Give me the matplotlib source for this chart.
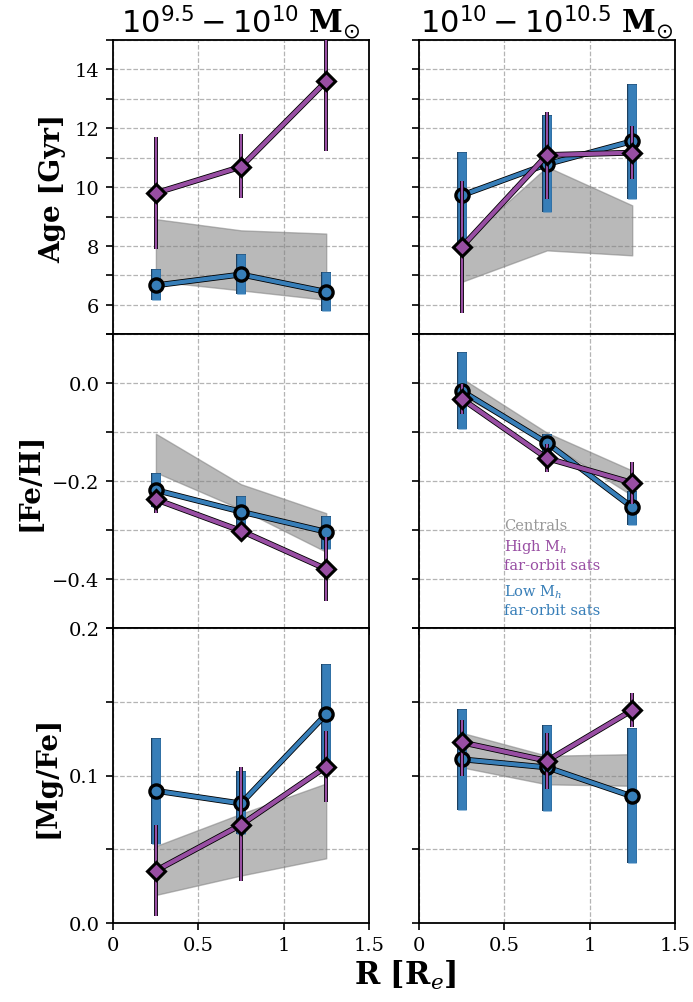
import numpy as np
import matplotlib
matplotlib.use('Agg')
import matplotlib.pyplot as plt
import matplotlib.patheffects as pe
from matplotlib.ticker import MultipleLocator, FuncFormatter

plt.rcParams['font.family'] = 'DejaVu Serif'
plt.rcParams['mathtext.fontset'] = 'custom'
plt.rcParams['mathtext.rm'] = 'DejaVu Sans'
plt.rcParams['mathtext.it'] = 'DejaVu Serif:italic'
plt.rcParams['mathtext.bf'] = 'DejaVu Serif:bold'

# radial bins [R_e]
r = [0.25, 0.75, 1.25]

# ---- Age [Gyr] ----
age_low_lo = [6.66, 7.03, 6.44]      # low Mh sats, low-mass bin
age_low_lo_err = [(0.51, 0.55), (0.68, 0.71), (0.65, 0.68)]
age_high_lo = [9.80, 10.69, 13.60]
age_high_lo_err = [(1.90, 1.90), (1.05, 1.10), (2.38, 2.38)]
age_cen_lo = [(6.80, 8.91), (6.49, 8.53), (6.17, 8.42)]

age_low_hi = [9.72, 10.78, 11.56]    # high-mass bin
age_low_hi_err = [(1.75, 1.48), (1.62, 1.67), (1.95, 1.93)]
age_high_hi = [7.97, 11.09, 11.17]
age_high_hi_err = [(2.24, 2.23), (1.48, 1.45), (0.88, 0.90)]
age_cen_hi = [(6.78, 8.10), (7.85, 10.69), (7.68, 9.38)]

# ---- [Fe/H] ----
feh_low_lo = [-0.218, -0.262, -0.303]
feh_low_lo_err = [(0.035, 0.035), (0.033, 0.033), (0.035, 0.032)]
feh_high_lo = [-0.237, -0.301, -0.379]
feh_high_lo_err = [(0.028, 0.012), (0.015, 0.015), (0.065, 0.065)]
feh_cen_lo = [(-0.182, -0.103), (-0.257, -0.206), (-0.344, -0.265)]

feh_low_hi = [-0.016, -0.122, -0.253]
feh_low_hi_err = [(0.077, 0.079), (0.020, 0.019), (0.037, 0.033)]
feh_high_hi = [-0.032, -0.153, -0.203]
feh_high_hi_err = [(0.031, 0.030), (0.029, 0.029), (0.043, 0.043)]
feh_cen_hi = [(-0.025, 0.010), (-0.120, -0.101), (-0.229, -0.178)]

# ---- [Mg/Fe] ----
mgfe_low_lo = [0.0896, 0.081, 0.1417]
mgfe_low_lo_err = [(0.036, 0.036), (0.021, 0.022), (0.035, 0.034)]
mgfe_high_lo = [0.0353, 0.0665, 0.106]
mgfe_high_lo_err = [(0.031, 0.031), (0.038, 0.039), (0.024, 0.024)]
mgfe_cen_lo = [(0.0188, 0.052), (0.032, 0.074), (0.0437, 0.0946)]

mgfe_low_hi = [0.111, 0.1055, 0.0858]
mgfe_low_hi_err = [(0.0345, 0.034), (0.0295, 0.0285), (0.0455, 0.0462)]
mgfe_high_hi = [0.1225, 0.110, 0.1444]
mgfe_high_hi_err = [(0.0227, 0.0155), (0.019, 0.019), (0.0117, 0.0116)]
mgfe_cen_hi = [(0.1055, 0.129), (0.094, 0.1134), (0.093, 0.1145)]

c_low = '#377eb8'
c_high = '#984ea3'
c_cen = 'grey'

panels = [
    [(age_cen_lo, age_low_lo, age_low_lo_err, age_high_lo, age_high_lo_err),
     (age_cen_hi, age_low_hi, age_low_hi_err, age_high_hi, age_high_hi_err)],
    [(feh_cen_lo, feh_low_lo, feh_low_lo_err, feh_high_lo, feh_high_lo_err),
     (feh_cen_hi, feh_low_hi, feh_low_hi_err, feh_high_hi, feh_high_hi_err)],
    [(mgfe_cen_lo, mgfe_low_lo, mgfe_low_lo_err, mgfe_high_lo, mgfe_high_lo_err),
     (mgfe_cen_hi, mgfe_low_hi, mgfe_low_hi_err, mgfe_high_hi, mgfe_high_hi_err)],
]
ylabels = ['Age [Gyr]', '[Fe/H]', '[Mg/Fe]']
ylims = [(5, 15), (-0.5, 0.1), (0.0, 0.2)]
ysteps = [1, 0.1, 0.05]
ylabeled = [[6, 8, 10, 12, 14], [0.0, -0.2, -0.4], [0.0, 0.1, 0.2]]
titles = [r'$10^{9.5}-10^{10}$ $\mathbf{M}_{\odot}$',
          r'$10^{10}-10^{10.5}$ $\mathbf{M}_{\odot}$']

fig = plt.figure(figsize=(6.93, 10.03), dpi=100)
left = [113.3 / 693, 419.3 / 693]
width = 255.5 / 693
top = 1 - 41.0 / 1003
height = 294.2 / 1003


def outline(lw, col='k'):
    return [pe.Stroke(linewidth=lw, foreground=col), pe.Normal()]


def make_fmt(labeled):
    def f(v, pos):
        for t in labeled:
            if abs(v - t) < 1e-6:
                if abs(t) >= 1:
                    return '%d' % round(t)
                return ('%.1f' % t).replace('-', '\u2212')
        return ''
    return f


for i in range(3):
    for j in range(2):
        ax = fig.add_axes([left[j], top - (i + 1) * height, width, height])
        cen, lo, lo_err, hi, hi_err = panels[i][j]

        cen = np.array(cen)
        ax.fill_between(r, cen[:, 0], cen[:, 1], facecolor=c_cen, alpha=0.55,
                        edgecolor='grey', lw=1, zorder=2)

        # low-Mh satellites: thick bars
        e = np.array(lo_err).T
        eb = ax.errorbar(r, lo, yerr=e, fmt='none', ecolor=c_low,
                         elinewidth=6.2, zorder=3)
        eb.lines[2][0].set_path_effects(outline(7.2, '#1d3f5e'))
        ax.plot(r, lo, '-', color=c_low, lw=3, zorder=4,
                path_effects=outline(4.2))
        ax.plot(r, lo, 'o', ms=9.5, mfc=c_low, mec='k', mew=2.4, zorder=5)

        # high-Mh satellites: thin bars
        e = np.array(hi_err).T
        eb = ax.errorbar(r, hi, yerr=e, fmt='none', ecolor=c_high,
                         elinewidth=1.6, zorder=6)
        eb.lines[2][0].set_path_effects(outline(2.8))
        ax.plot(r, hi, '-', color=c_high, lw=3, zorder=7,
                path_effects=outline(4.2))
        ax.plot(r, hi, 'D', ms=9.5, mfc=c_high, mec='k', mew=2.2, zorder=8)

        ax.set_xlim(0, 1.5)
        ax.set_ylim(*ylims[i])
        ax.set_xticks([0, 0.5, 1, 1.5])
        ax.yaxis.set_major_locator(MultipleLocator(ysteps[i]))
        ax.grid(True, ls='--', color='#b4b4b4', lw=0.9)
        ax.set_axisbelow(True)
        ax.tick_params(labelsize=14, length=5, width=1.2, pad=5)
        for s in ax.spines.values():
            s.set_linewidth(1.3)

        if i == 2:
            ax.set_xticklabels(['0', '0.5', '1', '1.5'])
        else:
            ax.set_xticklabels([])
        if j == 0:
            ax.yaxis.set_major_formatter(FuncFormatter(make_fmt(ylabeled[i])))
            ax.set_ylabel(ylabels[i], fontsize=20, fontweight='bold',
                          labelpad=6)
        else:
            ax.set_yticklabels([])
        if i == 0:
            ax.set_title(titles[j], fontsize=22, pad=5)

        if i == 1 and j == 1:
            ax.text(0.5, -0.29, 'Centrals', color='#999999', fontsize=10.5,
                    va='center')
            ax.text(0.5, -0.35, 'High M$_h$\nfar-orbit sats', color=c_high,
                    fontsize=10.5, va='center', linespacing=1.25)
            ax.text(0.5, -0.441, 'Low M$_h$\nfar-orbit sats', color=c_low,
                    fontsize=10.5, va='center', linespacing=1.25)

fig.text(405 / 693, 1 - 975 / 1003, 'R [R$_e$]', fontsize=22,
         fontweight='bold', ha='center', va='center')

fig.savefig('out.png', dpi=100)
